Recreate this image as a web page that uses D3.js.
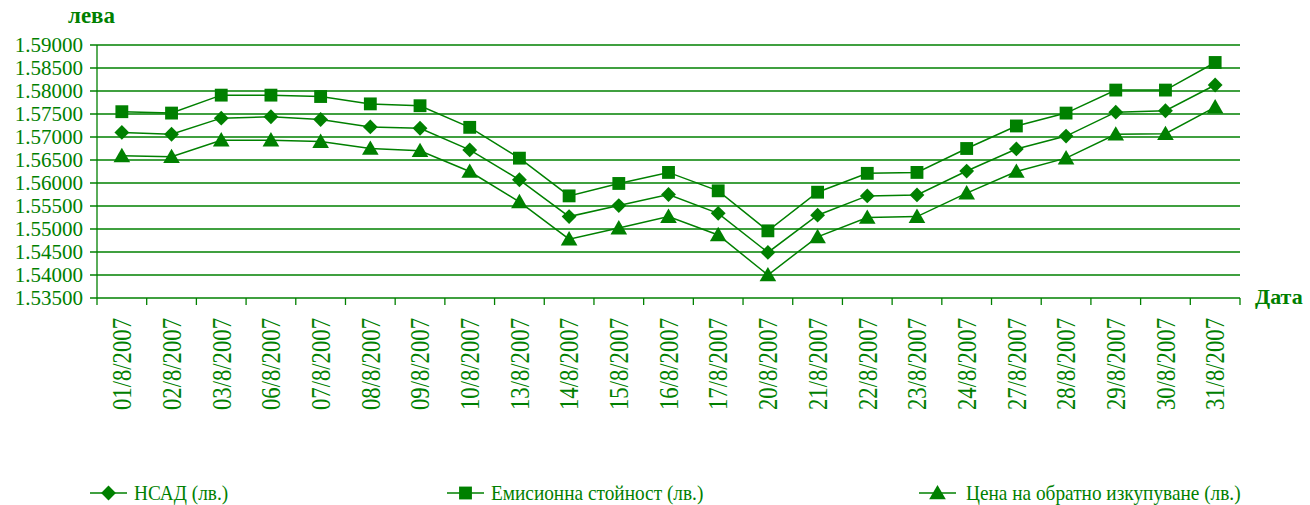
<!DOCTYPE html>
<html><head><meta charset="utf-8">
<script src="https://cdn.jsdelivr.net/npm/d3@7"></script>
<style>
html,body{margin:0;padding:0;background:#fff;}
svg text{font-family:"Liberation Serif","Tinos","DejaVu Serif",serif;fill:#008000;}
</style></head>
<body><svg id="c" width="1310" height="505"></svg>
<script>
const categories = ["01/8/2007","02/8/2007","03/8/2007","06/8/2007","07/8/2007","08/8/2007","09/8/2007","10/8/2007","13/8/2007","14/8/2007","15/8/2007","16/8/2007","17/8/2007","20/8/2007","21/8/2007","22/8/2007","23/8/2007","24/8/2007","27/8/2007","28/8/2007","29/8/2007","30/8/2007","31/8/2007"];
const nsad = [1.5710,1.5706,1.5741,1.5744,1.5738,1.5722,1.5719,1.5672,1.5607,1.5527,1.5551,1.5575,1.5534,1.5449,1.5530,1.5572,1.5574,1.5626,1.5674,1.5702,1.5754,1.5757,1.5813];
const emission = [1.5755,1.5752,1.5791,1.5791,1.5788,1.5772,1.5768,1.5721,1.5654,1.5572,1.5599,1.5623,1.5583,1.5496,1.5580,1.5621,1.5623,1.5675,1.5724,1.5752,1.5802,1.5802,1.5862];
const redemption = [1.5659,1.5657,1.5693,1.5693,1.5690,1.5675,1.5670,1.5625,1.5559,1.5478,1.5502,1.5527,1.5487,1.5400,1.5483,1.5525,1.5527,1.5578,1.5625,1.5654,1.5706,1.5707,1.5765];
const yTicks = [1.535,1.540,1.545,1.550,1.555,1.560,1.565,1.570,1.575,1.580,1.585,1.590];
const seriesNames = ["НСАД (лв.)","Емисионна стойност (лв.)","Цена на обратно изкупуване (лв.)"];
const yTitle = "лева";
const xTitle = "Дата";

const G = "#008000";
const FONT = '"Liberation Serif", "Tinos", "DejaVu Serif", serif';
const svg = d3.select("#c").attr("font-family", FONT);
const L = 97, R = 1240, T = 45, B = 298;
const x = d3.scaleBand().domain(categories).range([L, R]);
const y = d3.scaleLinear().domain([1.535, 1.59]).range([B, T]);

svg.append("g").selectAll("line").data(yTicks).join("line")
  .attr("x1", L - 7).attr("x2", R)
  .attr("y1", d => y(d)).attr("y2", d => y(d))
  .attr("stroke", G).attr("stroke-width", 1.3);
svg.append("line").attr("x1", L).attr("x2", L).attr("y1", T).attr("y2", B).attr("stroke", G).attr("stroke-width", 1.3);
svg.append("g").selectAll("text").data(yTicks).join("text")
  .attr("x", 83).attr("y", d => y(d)).attr("dy", "0.35em")
  .attr("text-anchor", "end").attr("font-family", FONT).style("font-size", "21px")
  .text(d => d3.format(".5f")(d));
const bounds = categories.map(c => x(c)).concat([R]);
svg.append("g").selectAll("line").data(bounds).join("line")
  .attr("x1", d => d).attr("x2", d => d).attr("y1", B).attr("y2", B + 7)
  .attr("stroke", G).attr("stroke-width", 1.3);
svg.append("g").selectAll("text").data(categories).join("text")
  .attr("transform", d => `translate(${x(d) + x.bandwidth() / 2},318) rotate(-90) scale(1,1.2)`)
  .attr("text-anchor", "end").attr("dy", "0.34em").attr("font-family", FONT).style("font-size", "22.7px")
  .text(d => d);

svg.append("text").attr("x", 68).attr("y", 23).attr("font-family", FONT).style("font-size", "23px").style("font-weight", "bold").text(yTitle);
svg.append("text").attr("x", 1255).attr("y", 304).attr("font-family", FONT).style("font-size", "22px").style("font-weight", "bold").text(xTitle);

const cx = d => x(d) + x.bandwidth() / 2;
const symbols = [
  d3.symbol().type(d3.symbolDiamond2).size(140),
  d3.symbol().type(d3.symbolSquare).size(165),
  d3.symbol().type(d3.symbolTriangle).size(120)
];
const allSeries = [nsad, emission, redemption];
const line = d3.line().x((d, i) => cx(categories[i])).y(d => y(d));

allSeries.forEach((s, k) => {
  svg.append("path").datum(s).attr("d", line).attr("fill", "none").attr("stroke", G).attr("stroke-width", 1.5);
  svg.append("g").selectAll("path").data(s).join("path")
    .attr("d", symbols[k])
    .attr("transform", (d, i) => `translate(${cx(categories[i])},${y(d) + (k === 2 ? 1.5 : 0)})`)
    .attr("fill", G);
});

const legX = [90, 447, 919];
seriesNames.forEach((n, k) => {
  const g = svg.append("g").attr("transform", `translate(${legX[k]},493)`);
  g.append("line").attr("x1", 0).attr("x2", 37).attr("y1", 0).attr("y2", 0).attr("stroke", G).attr("stroke-width", 1.5);
  g.append("path").attr("d", symbols[k]).attr("transform", `translate(18.5,${k === 2 ? 1.5 : 0})`).attr("fill", G);
  g.append("text").attr("transform", `translate(${k === 2 ? 47 : 44},7) scale(0.92,1)`)
    .attr("font-family", FONT).style("font-size", "21px").text(n);
});
</script></body></html>
